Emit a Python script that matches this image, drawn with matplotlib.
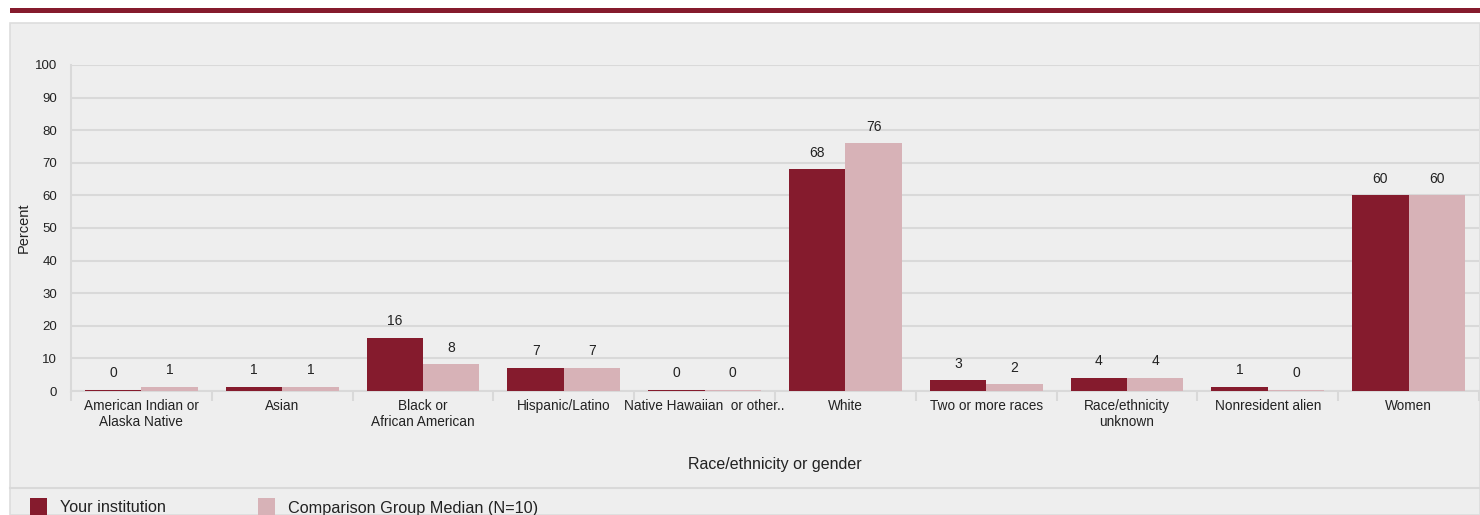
import numpy as np
import matplotlib
matplotlib.use("Agg")
import matplotlib.pyplot as plt
from matplotlib.patches import Rectangle

plt.rcParams['font.family'] = ['Liberation Sans', 'DejaVu Sans']

categories = ['American Indian or\nAlaska Native', 'Asian', 'Black or\nAfrican American',
              'Hispanic/Latino', 'Native Hawaiian  or other..', 'White',
              'Two or more races', 'Race/ethnicity\nunknown', 'Nonresident alien', 'Women']
your_inst = [0.4, 1.3, 16.2, 7.0, 0.4, 68.0, 3.3, 4.0, 1.3, 60.0]
comparison = [1.3, 1.3, 8.2, 7.0, 0.4, 76.0, 2.0, 4.0, 0.4, 60.0]
your_labels = [0, 1, 16, 7, 0, 68, 3, 4, 1, 60]
comp_labels = [1, 1, 8, 7, 0, 76, 2, 4, 0, 60]

dark = '#851B2D'
light = '#D7B2B7'
grid_c = '#d9d9d9'
txt = '#222222'

W, H = 1480, 515
fig = plt.figure(figsize=(W / 100, H / 100), dpi=100)
fig.patch.set_facecolor('white')

# panel background + top rule
fig.patches.append(Rectangle((10 / W, 0), 1 - 10 / W, (H - 23) / H, transform=fig.transFigure,
                             facecolor='#eeeeee', edgecolor='#dddddd', lw=1.2, zorder=-10))
fig.patches.append(Rectangle((10 / W, (H - 13) / H), 1 - 10 / W, 5 / H, transform=fig.transFigure,
                             facecolor=dark, edgecolor='none', zorder=-5))
fig.add_artist(plt.Line2D([10 / W, 1], [(H - 488) / H] * 2, transform=fig.transFigure,
                          color='#d9d9d9', lw=1.5, zorder=-5))

ax = fig.add_axes([71 / W, (H - 391) / H, 1408 / W, (391 - 65) / H])
ax.set_facecolor('#eeeeee')
x = np.arange(len(categories))
bw = 0.4
ax.bar(x - bw / 2, your_inst, bw, color=dark, zorder=3)
ax.bar(x + bw / 2, comparison, bw, color=light, zorder=3)
for i in range(len(categories)):
    ax.annotate(str(your_labels[i]), (x[i] - bw / 2, your_inst[i]), xytext=(0, 7),
                textcoords='offset points', ha='center', va='bottom', fontsize=10, color=txt)
    ax.annotate(str(comp_labels[i]), (x[i] + bw / 2, comparison[i]), xytext=(0, 7),
                textcoords='offset points', ha='center', va='bottom', fontsize=10, color=txt)

ax.set_xlim(-0.5, len(categories) - 0.5)
ax.set_ylim(0, 100)
ax.set_yticks(np.arange(0, 101, 10))
ax.yaxis.grid(True, color=grid_c, lw=1.5, zorder=0)
ax.set_axisbelow(True)
ax.set_xticks(x)
ax.set_xticklabels(categories, fontsize=9.8, color=txt, linespacing=1.15)
ax.set_xticks(np.arange(-0.5, len(categories), 1), minor=True)
ax.tick_params(axis='x', which='major', length=0, pad=6)
ax.tick_params(axis='x', which='minor', length=7, width=1.5, color=grid_c)
ax.tick_params(axis='y', length=0, pad=10, labelsize=9.5, labelcolor=txt)
for s in ['top', 'right']:
    ax.spines[s].set_visible(False)
ax.spines['left'].set_color(grid_c)
ax.spines['left'].set_linewidth(1.5)
ax.spines['bottom'].set_color(grid_c)
ax.spines['bottom'].set_linewidth(1.5)
ax.set_ylabel('Percent', fontsize=10.5, color=txt, labelpad=3)
ax.set_xlabel('Race/ethnicity or gender', fontsize=11.5, color=txt, labelpad=20)

# legend
fig.patches.append(Rectangle((30 / W, 0), 17 / W, 17 / H, transform=fig.transFigure,
                             facecolor=dark, edgecolor='none'))
fig.text(60 / W, 7 / H, 'Your institution', fontsize=11.7, va='center', color=txt)
fig.patches.append(Rectangle((258 / W, 0), 17 / W, 17 / H, transform=fig.transFigure,
                             facecolor=light, edgecolor='none'))
fig.text(288 / W, 7 / H, 'Comparison Group Median (N=10)', fontsize=11.7, va='center', color=txt)

fig.savefig('out.png', dpi=100)
